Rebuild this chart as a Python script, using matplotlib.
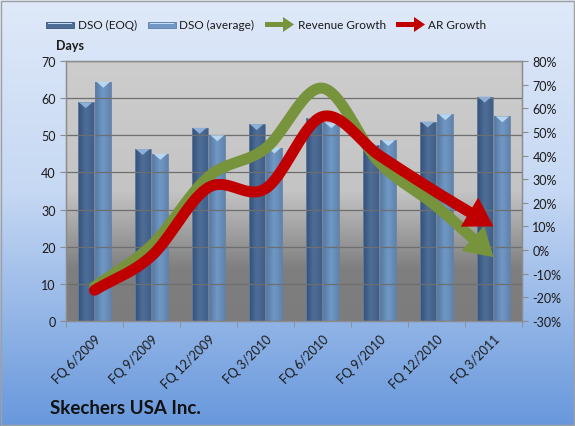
import numpy as np
import matplotlib
matplotlib.use("Agg")
import matplotlib.pyplot as plt
import matplotlib.patches as mpatches
from matplotlib.colors import LinearSegmentedColormap
from matplotlib.ticker import FuncFormatter

plt.rcParams['font.family'] = ['Lato', 'DejaVu Sans']

categories = ["FQ 6/2009", "FQ 9/2009", "FQ 12/2009", "FQ 3/2010",
              "FQ 6/2010", "FQ 9/2010", "FQ 12/2010", "FQ 3/2011"]
dso_eoq = [58.9, 46.3, 52.0, 53.0, 54.7, 47.4, 53.7, 60.4]
dso_avg = [64.4, 45.0, 50.0, 46.7, 53.5, 48.7, 55.7, 55.1]
revenue_growth = [-15.5, 2.0, 31.0, 43.0, 68.5, 37.0, 18.5, -3.0]
ar_growth = [-17.0, -2.5, 26.5, 26.0, 56.5, 40.0, 24.5, 10.0]
legend_labels = ["DSO (EOQ)", "DSO (average)", "Revenue Growth", "AR Growth"]

W, H = 575, 427
fig = plt.figure(figsize=(W / 100, H / 100), dpi=100)

# figure background gradient (pixel coordinates, y up)
bg = fig.add_axes([0, 0, 1, 1], zorder=-10)
bg_cmap = LinearSegmentedColormap.from_list("bg", [(0, "#dfe9f9"), (0.45, "#c6d8f3"), (1, "#6898dc")])
bg.imshow(np.linspace(0, 1, 256).reshape(-1, 1), aspect="auto", cmap=bg_cmap,
          extent=[0, W, 0, H], origin="upper")
bg.set_xlim(0, W); bg.set_ylim(0, H)
bg.add_patch(mpatches.Rectangle((1, 1), W - 2.5, H - 2.5, fill=False,
                                edgecolor="#a0a0a0", lw=1))
bg.axis("off")

L, R, B, T = 66 / W, 522 / W, (H - 322) / H, (H - 62) / H
ax = fig.add_axes([L, B, R - L, T - B])
ax2 = ax.twinx()

n = len(categories)
x = np.arange(n)
ax.set_xlim(-0.5, n - 0.5)
ax.set_ylim(0, 70)
ax2.set_ylim(-30, 80)

# plot area gradient
pa_cmap = LinearSegmentedColormap.from_list("pa", [(0, "#7c7c7c"), (0.2, "#7f7f7f"),
                                                   (0.5, "#c4c4c4"), (1, "#cdcdcd")])
ax.imshow(np.linspace(0, 1, 256).reshape(-1, 1), aspect="auto", cmap=pa_cmap,
          extent=[-0.5, n - 0.5, 0, 70], origin="lower", zorder=0)

ax.yaxis.grid(True, color="#6e6e6e", lw=0.9, zorder=1)
ax.set_axisbelow(False)

bw = 0.28
off = 0.155
eoq_cmap = LinearSegmentedColormap.from_list("eoq", ["#34507a", "#4e6e98", "#405f88"])
avg_cmap = LinearSegmentedColormap.from_list("avg", ["#5478a4", "#7198c4", "#5f84b0"])


def grad_bars(xs, vals, cmap, capcol):
    bars = ax.bar(xs, vals, width=bw, color="none", edgecolor="#6a7f9c", lw=0.6, zorder=3)
    for b, v in zip(bars, vals):
        x0 = b.get_x()
        im = ax.imshow(np.linspace(0, 1, 64).reshape(1, -1), aspect="auto", cmap=cmap,
                       extent=[x0, x0 + bw, 0, v], zorder=2)
        im.set_clip_path(b)
        cap = mpatches.Polygon([(x0 + 0.02, v), (x0 + bw - 0.02, v), (x0 + bw * 0.5, v - 1.6)],
                               closed=True, color=capcol, zorder=3, lw=0)
        ax.add_patch(cap)
    return bars


grad_bars(x - off, dso_eoq, eoq_cmap, "#8fb0d6")
grad_bars(x + off, dso_avg, avg_cmap, "#b8d6f0")
ax.set_xlim(-0.5, n - 0.5)
ax.set_ylim(0, 70)


def catmull(xs, ys, steps=40):
    p = np.column_stack([xs, ys]).astype(float)
    m = np.zeros_like(p)
    m[1:-1] = (p[2:] - p[:-2]) / 2
    m[0] = (p[1] - p[0])
    m[-1] = (p[-1] - p[-2])
    out = []
    for i in range(len(p) - 1):
        t = np.linspace(0, 1, steps, endpoint=(i == len(p) - 2))[:, None]
        h00 = 2 * t**3 - 3 * t**2 + 1
        h10 = t**3 - 2 * t**2 + t
        h01 = -2 * t**3 + 3 * t**2
        h11 = t**3 - t**2
        out.append(h00 * p[i] + h10 * m[i] + h01 * p[i + 1] + h11 * m[i + 1])
    return np.vstack(out)


def arrow_line(vals, color, lw_px=11, head_len=28, head_w=34):
    pts = catmull(x, vals)
    tr = ax2.transData
    disp = tr.transform(pts)
    tip = disp[-1]
    d = np.hypot(*(disp - tip).T)
    idx = np.where(d >= head_len)[0][-1]
    base = disp[idx]
    u = (tip - base) / np.hypot(*(tip - base))
    nrm = np.array([-u[1], u[0]])
    base = tip - u * head_len
    line = np.vstack([disp[:idx + 1], base])
    line_d = tr.inverted().transform(line)
    ax2.plot(line_d[:, 0], line_d[:, 1], color=color, lw=lw_px * 0.72,
             solid_capstyle="round", solid_joinstyle="round", zorder=5)
    tri = np.array([tip, base + nrm * head_w / 2, base - nrm * head_w / 2])
    tri_d = tr.inverted().transform(tri)
    ax2.add_patch(mpatches.Polygon(tri_d, closed=True, color=color, lw=0, zorder=5))


arrow_line(revenue_growth, "#77933c")
arrow_line(ar_growth, "#c00000")

# axes styling
for a in (ax, ax2):
    for s in a.spines.values():
        s.set_color("#8c8c8c")
        s.set_linewidth(0.9)

ax.set_yticks(np.arange(0, 71, 10))
ax.tick_params(axis="y", labelsize=9, colors="#8c8c8c", labelcolor="#1a1a1a", length=4)
ax2.set_yticks(np.arange(-30, 81, 10))
ax2.yaxis.set_major_formatter(FuncFormatter(lambda v, p: f"{int(v)}%"))
ax2.tick_params(axis="y", labelsize=9, colors="#8c8c8c", labelcolor="#1a1a1a", length=4)

ax.set_xticks(x)
ax.set_xticklabels(categories, rotation=45, ha="right", rotation_mode="anchor",
                   fontsize=9, color="#1a1a1a")
ax.tick_params(axis="x", which="major", length=0, pad=8)
ax.set_xticks(np.arange(-0.5, n, 1), minor=True)
ax.tick_params(axis="x", which="minor", length=4, color="#8c8c8c")

fig.text(56 / W, 1 - 46 / H, "Days", fontsize=9, fontweight="bold", ha="left", va="center",
         color="#1a1a1a")
fig.text(50 / W, 1 - 409 / H, "Skechers USA Inc.", fontsize=13.5, fontweight="bold",
         ha="left", va="center", color="#111111")

# manual legend (pixel coordinates on background axes)
ly = H - 25.5
handle_x = [46, 148, 265, 396]
text_x = [78, 179, 298, 428]
bar_fc = ["#4e6e98", "#7198c4"]
bar_ec = ["#3a5578", "#5a7ea8"]
for i in range(2):
    bg.add_patch(mpatches.Rectangle((handle_x[i], ly - 3), 28, 6, facecolor=bar_fc[i],
                                    edgecolor=bar_ec[i], lw=0.6))
    bg.add_patch(mpatches.Rectangle((handle_x[i] + 2, ly + 0.5), 24, 1.5,
                                    facecolor="#c8dcf2", lw=0))
arrow_cols = ["#77933c", "#c00000"]
for j in range(2):
    bg.add_patch(mpatches.FancyArrow(handle_x[2 + j], ly, 29, 0, width=5,
                                     head_width=15, head_length=11,
                                     length_includes_head=True, color=arrow_cols[j], lw=0))
for i, lab in enumerate(legend_labels):
    bg.text(text_x[i], ly, lab, fontsize=8.5, ha="left", va="center", color="#1a1a1a")

fig.savefig("out.png", dpi=100)
